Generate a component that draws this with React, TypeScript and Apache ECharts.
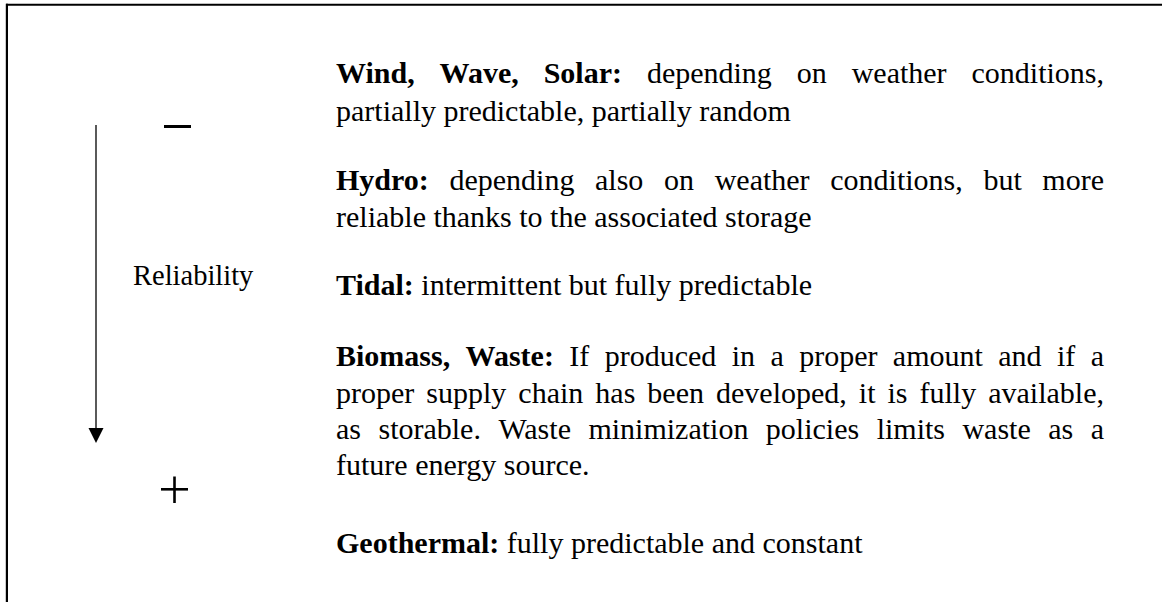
import React, { useEffect, useRef } from "react";
import * as echarts from "echarts";

// ---- content ----
const lineTexts: string[] = [
  "Wind, Wave, Solar: depending on weather conditions,",
  "partially predictable, partially random",
  "Hydro: depending also on weather conditions, but more",
  "reliable thanks to the associated storage",
  "Tidal: intermittent but fully predictable",
  "Biomass, Waste: If produced in a proper amount and if a",
  "proper supply chain has been developed, it is fully available,",
  "as storable. Waste minimization policies limits waste as a",
  "future energy source.",
  "Geothermal: fully predictable and constant",
];
// number of leading bold words per line
const lineBoldWords: number[] = [3, 0, 1, 0, 1, 2, 0, 0, 0, 1];
const lineJustify: boolean[] = [true, false, true, false, false, true, true, true, false, false];
const lineBaselines: number[] = [83, 120.5, 190, 227, 295, 366, 403, 439, 475, 553];

const axisLabel = "Reliability";
const lowSign = "minus";
const highSign = "plus";

const FONT_FAMILY = '"Liberation Serif", "Times New Roman", serif';
const FONT_SIZE = 30;
const TEXT_LEFT = 336;
const TEXT_RIGHT = 1104;

export default function App() {
  const ref = useRef<HTMLDivElement>(null);

  useEffect(() => {
    if (!ref.current) return;
    const chart = echarts.init(ref.current, null, { renderer: "svg" });

    const canvas = document.createElement("canvas");
    const ctx = canvas.getContext("2d")!;
    const measure = (s: string, bold: boolean) => {
      ctx.font = `${bold ? "bold " : ""}${FONT_SIZE}px ${FONT_FAMILY}`;
      return ctx.measureText(s).width;
    };
    const spaceW = measure(" ", false);
    const centralOffset = FONT_SIZE * 0.3375;

    const elements: any[] = [];

    lineTexts.forEach((line, i) => {
      const words = line.split(" ");
      const widths = words.map((w, k) => measure(w, k < lineBoldWords[i]));
      const total = widths.reduce((a, b) => a + b, 0);
      const gap = lineJustify[i] && words.length > 1
        ? (TEXT_RIGHT - TEXT_LEFT - total) / (words.length - 1)
        : spaceW;
      let x = TEXT_LEFT;
      words.forEach((w, k) => {
        elements.push({
          type: "text",
          x,
          y: lineBaselines[i] - centralOffset,
          style: {
            text: w,
            fontFamily: FONT_FAMILY,
            fontSize: FONT_SIZE,
            fontWeight: k < lineBoldWords[i] ? "bold" : "normal",
            fill: "#000",
            align: "left",
            verticalAlign: "middle",
          },
        });
        x += widths[k] + gap;
      });
    });

    // Reliability label
    elements.push({
      type: "text",
      x: 133,
      y: 285 - 28.5 * 0.3375,
      style: {
        text: axisLabel,
        fontFamily: FONT_FAMILY,
        fontSize: 28.5,
        fill: "#000",
        align: "left",
        verticalAlign: "middle",
      },
    });

    // arrow
    elements.push({
      type: "line",
      shape: { x1: 96, y1: 125, x2: 96, y2: 430 },
      style: { stroke: "#000", lineWidth: 1.3 },
    });
    elements.push({
      type: "polygon",
      shape: { points: [[88.5, 428], [103.5, 428], [96, 443]] },
      style: { fill: "#000" },
    });

    // minus sign
    if (lowSign === "minus") {
      elements.push({
        type: "rect",
        shape: { x: 164, y: 125, width: 27, height: 3 },
        style: { fill: "#000" },
      });
    }
    // plus sign
    if (highSign === "plus") {
      elements.push({
        type: "rect",
        shape: { x: 161, y: 488, width: 27, height: 2.6 },
        style: { fill: "#000" },
      });
      elements.push({
        type: "rect",
        shape: { x: 173.2, y: 476.5, width: 2.6, height: 26.5 },
        style: { fill: "#000" },
      });
    }

    // frame (top and left)
    elements.push({
      type: "line",
      shape: { x1: 6, y1: 4.7, x2: 1162, y2: 4.7 },
      style: { stroke: "#000", lineWidth: 2 },
    });
    elements.push({
      type: "line",
      shape: { x1: 6.9, y1: 3.7, x2: 6.9, y2: 602 },
      style: { stroke: "#000", lineWidth: 2.2 },
    });

    chart.setOption({
      animation: false,
      backgroundColor: "#fff",
      graphic: { elements },
    });

    return () => chart.dispose();
  }, []);

  return (
    <div
      ref={ref}
      style={{ position: "fixed", left: 0, top: 0, width: 1162, height: 602, background: "#fff" }}
    />
  );
}
